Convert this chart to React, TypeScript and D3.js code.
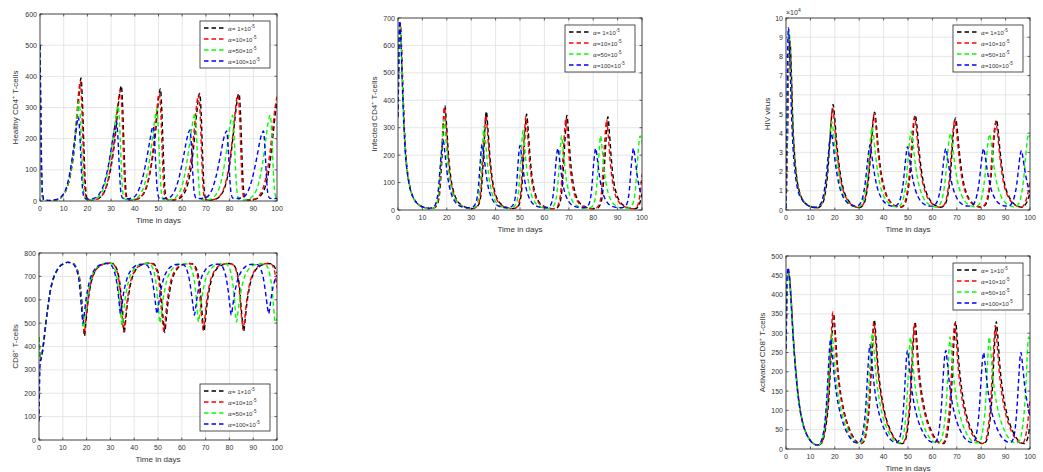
import React from 'react';
import * as d3 from 'd3';

type Pt = [number, number];

// alpha values used in the legends (x 10^-5)
const alphaNames = ['1', '10', '50', '100'];
const lineColors = ['#000000', '#ff0000', '#00ff00', '#0000ff'];

const dayTicks = [0, 10, 20, 30, 40, 50, 60, 70, 80, 90, 100];
const healthyTicks = [0, 100, 200, 300, 400, 500, 600];
const infectedTicks = [0, 100, 200, 300, 400, 500, 600, 700];
const virusTicks = [0, 1, 2, 3, 4, 5, 6, 7, 8, 9, 10];
const cd8Ticks = [0, 100, 200, 300, 400, 500, 600, 700, 800];
const activatedTicks = [0, 50, 100, 150, 200, 250, 300, 350, 400, 450, 500];

// Healthy CD4+ T-cells
const healthyA1: Pt[] = [[0,500],[0.4,200],[0.8,30],[1.5,3],[4,1],[7,4],[9,12],[11,35],[13,90],[14.5,170],[15.8,280],[16.7,360],[17.3,395],[17.9,320],[18.5,180],[19.1,60],[19.8,10],[21,3],[24,6],[26,16],[28,45],[30,110],[31.5,190],[32.8,290],[33.7,350],[34.3,370],[34.9,300],[35.5,160],[36.1,50],[36.8,8],[38.5,3],[41,6],[43,16],[45,45],[47,115],[48.5,200],[49.5,285],[50.3,345],[50.8,360],[51.4,290],[52,160],[52.6,50],[53.3,8],[55,3],[58,6],[60,16],[62,45],[64,120],[65.3,210],[66.3,295],[67,340],[67.4,345],[68,280],[68.6,150],[69.2,45],[69.9,8],[71.5,3],[74,6],[76,16],[78,45],[80,115],[81.5,210],[82.8,300],[83.6,340],[84,345],[84.6,280],[85.2,150],[85.8,45],[86.5,8],[88,3],[91,6],[93,16],[95,45],[97,120],[98.3,210],[99.3,280],[100,315]];
const healthyA10: Pt[] = [[0,500],[0.4,200],[0.8,30],[1.5,3],[4,1],[7,4],[9,12],[11,35],[13,95],[14.4,180],[15.6,285],[16.4,355],[17,385],[17.6,310],[18.2,175],[18.8,55],[19.5,9],[21,3],[24,6],[26,16],[28,48],[30,120],[31.4,200],[32.6,295],[33.4,340],[34,355],[34.6,285],[35.2,150],[35.8,45],[36.5,8],[38.2,3],[41,6],[43,17],[45,50],[47,125],[48.3,210],[49.3,290],[49.9,335],[50.4,345],[51,280],[51.6,150],[52.2,45],[52.9,8],[54.6,3],[57.5,6],[59.5,17],[61.5,50],[63.5,125],[64.9,215],[65.9,295],[66.6,335],[67,340],[67.6,275],[68.2,145],[68.8,42],[69.5,8],[71.2,3],[74,6],[76,17],[78,50],[80,125],[81.4,215],[82.5,295],[83.2,335],[83.6,340],[84.2,275],[84.8,145],[85.4,42],[86.1,8],[87.8,3],[90.5,6],[92.5,17],[94.5,50],[96.5,125],[98,220],[99.2,300],[100,335]];
const healthyA50: Pt[] = [[0,500],[0.4,200],[0.8,30],[1.5,3],[4,1],[7,4],[9,12],[11,35],[12.8,90],[14.2,170],[15.3,250],[16,300],[16.5,320],[17.1,260],[17.7,140],[18.3,45],[19,8],[20.5,3],[23,6],[25,16],[27,45],[29,110],[30.6,190],[31.8,260],[32.5,295],[33,305],[33.6,245],[34.2,130],[34.8,40],[35.5,8],[37,3],[40,6],[42,18],[44,50],[46,120],[47.4,200],[48.5,265],[49.3,295],[49.9,235],[50.5,120],[51.1,38],[51.8,7],[53.5,3],[56,6],[58,18],[60,50],[62,125],[63.5,205],[64.6,260],[65.4,280],[66,220],[66.6,110],[67.2,35],[67.9,7],[69.5,3],[72,6],[74,18],[76,50],[78,125],[79.5,205],[80.5,258],[81.3,275],[81.9,215],[82.5,105],[83.1,33],[83.8,7],[85.5,3],[88,6],[90,18],[92,50],[94,125],[95.4,205],[96.4,258],[97.2,275],[97.8,215],[98.4,105],[99,33],[99.6,10],[100,7]];
const healthyA100: Pt[] = [[0,500],[0.5,200],[1,30],[1.7,4],[4,2],[7,5],[9,14],[11,40],[12.7,95],[14,160],[15.2,230],[15.8,260],[16.2,270],[16.8,215],[17.4,110],[18,35],[18.8,9],[20.5,6],[23,9],[25,22],[27,55],[29,120],[30.5,190],[31.6,240],[32.3,255],[32.9,200],[33.5,100],[34.1,30],[34.9,9],[36.5,7],[39,10],[41,25],[43,65],[45,135],[46.5,200],[47.3,232],[47.8,240],[48.4,185],[49,90],[49.6,28],[50.4,9],[52,8],[54.5,11],[56.5,27],[58.5,70],[60.5,140],[62,200],[62.8,222],[63.3,228],[63.9,175],[64.5,85],[65.1,26],[65.9,9],[67.5,8],[70,11],[72,27],[74,70],[76,140],[77.5,200],[78.3,220],[78.8,225],[79.4,172],[80,85],[80.6,26],[81.4,9],[83,8],[85.5,11],[87.5,27],[89.5,70],[91.5,140],[93,200],[93.8,220],[94.3,225],[94.9,172],[95.5,85],[96.1,26],[96.9,9],[98.5,8],[100,9]];

// Infected CD4+ T-cells
const infectedA1: Pt[] = [[0,340],[0.4,560],[0.9,680],[1.4,600],[2,440],[2.6,300],[3.2,200],[4,130],[5,80],[6,50],[7.5,28],[9,16],[11,8],[13,5],[15,9],[16.2,22],[17.2,75],[18,190],[18.7,320],[19.2,380],[19.9,310],[20.7,200],[21.7,115],[22.7,70],[24,38],[26,18],[28,9],[30,5],[31.5,7],[33.2,22],[34.2,75],[35,190],[35.7,305],[36.2,360],[36.9,290],[37.7,190],[38.7,110],[39.7,65],[41,35],[43,16],[45,8],[47,5],[48.5,7],[49.7,22],[50.7,75],[51.5,190],[52.2,300],[52.7,350],[53.4,285],[54.2,185],[55.2,105],[56.2,62],[57.5,33],[59.5,15],[61.5,7],[63.5,5],[65,7],[66.2,22],[67.2,75],[68,190],[68.7,295],[69.2,345],[69.9,280],[70.7,180],[71.7,103],[72.7,60],[74,32],[76,15],[78,7],[80,5],[81.8,7],[83,22],[84,75],[84.8,190],[85.5,290],[86,340],[86.7,275],[87.5,178],[88.5,100],[89.5,60],[91,30],[93,14],[95,7],[97,5],[98,8],[99,22],[100,60]];
const infectedA10: Pt[] = [[0,340],[0.4,560],[0.9,680],[1.4,600],[2,440],[2.6,300],[3.2,200],[4,130],[5,80],[6,50],[7.5,28],[9,16],[11,8],[13,5],[15,9],[16,22],[17,75],[17.8,190],[18.5,320],[19,375],[19.7,305],[20.5,198],[21.5,113],[22.5,68],[23.8,37],[25.8,17],[27.8,9],[29.8,5],[31.3,7],[33,22],[34,75],[34.8,190],[35.5,295],[36,345],[36.7,280],[37.5,185],[38.5,105],[39.5,62],[40.8,33],[42.8,15],[44.8,8],[46.8,5],[48.2,7],[49.4,22],[50.4,75],[51.2,190],[51.9,290],[52.4,340],[53.1,275],[53.9,180],[54.9,102],[55.9,60],[57.2,32],[59.2,15],[61.2,7],[63.2,5],[64.6,7],[65.8,22],[66.8,75],[67.6,190],[68.3,290],[68.8,335],[69.5,272],[70.3,175],[71.3,100],[72.3,58],[73.6,31],[75.6,14],[77.6,7],[79.6,5],[81.2,7],[82.5,22],[83.5,75],[84.3,190],[85,285],[85.5,330],[86.2,268],[87,172],[88,98],[89,57],[90.5,30],[92.5,14],[94.5,7],[96.5,5],[97.7,9],[98.8,35],[100,130]];
const infectedA50: Pt[] = [[0,340],[0.4,560],[0.8,670],[1.3,600],[1.9,440],[2.5,300],[3.1,200],[4,125],[5,78],[6,50],[7.5,28],[9,16],[11,8],[13,5],[14.8,9],[15.8,22],[16.8,70],[17.6,170],[18.3,280],[18.8,330],[19.5,270],[20.3,180],[21.3,105],[22.3,63],[23.6,35],[25.6,17],[27.6,9],[29.4,6],[30.9,8],[32.4,22],[33.4,70],[34.2,170],[34.8,260],[35.2,305],[35.9,250],[36.7,165],[37.7,95],[38.7,57],[40,31],[42,14],[44,7],[45.5,6],[47,9],[48.4,22],[49.4,68],[50.2,165],[50.8,250],[51.2,290],[51.9,235],[52.7,155],[53.7,90],[54.7,55],[56,30],[58,14],[60,7],[61.4,6],[62.8,9],[64.2,22],[65.2,65],[66,155],[66.6,235],[67,270],[67.7,220],[68.5,145],[69.5,85],[70.5,52],[71.8,28],[73.8,13],[75.8,7],[77.3,6],[78.8,9],[80.2,22],[81.2,65],[82,155],[82.6,235],[83,270],[83.7,220],[84.5,145],[85.5,85],[86.5,52],[87.8,28],[89.8,13],[91.8,7],[93.3,6],[94.8,9],[96.2,22],[97.2,65],[98,155],[98.7,240],[99.2,270],[100,245]];
const infectedA100: Pt[] = [[0,340],[0.3,560],[0.7,690],[1.2,610],[1.8,450],[2.4,310],[3,210],[3.9,130],[4.9,80],[6,50],[7.5,28],[9,16],[11,9],[13,7],[14.5,10],[15.5,24],[16.5,70],[17.3,160],[18,230],[18.5,255],[19.2,210],[20,145],[21,88],[22,55],[23.3,31],[25.3,15],[27.3,9],[29,8],[30.5,10],[31.8,24],[32.8,70],[33.6,160],[34.1,220],[34.5,240],[35.2,198],[36,138],[37,83],[38,52],[39.3,29],[41.3,14],[43.3,9],[44.8,8],[46.3,11],[47.5,25],[48.4,70],[49.1,155],[49.6,215],[50,235],[50.7,195],[51.5,135],[52.5,80],[53.5,50],[54.8,28],[56.8,14],[58.8,9],[60.2,8],[61.7,11],[62.9,25],[63.8,70],[64.5,150],[65.1,205],[65.5,225],[66.2,185],[67,128],[68,77],[69,48],[70.3,27],[72.3,13],[74.3,9],[75.7,8],[77.2,11],[78.4,25],[79.3,70],[80,150],[80.6,205],[81,225],[81.7,185],[82.5,128],[83.5,77],[84.5,48],[85.8,27],[87.8,13],[89.8,9],[91.2,8],[92.7,11],[93.9,25],[94.8,70],[95.5,150],[96.1,205],[96.5,225],[97.2,185],[98,128],[99,77],[100,50]];

// HIV virus (units of 10^4)
const virusA1: Pt[] = [[0,0.1],[0.5,3],[1,7],[1.6,8.8],[2.2,7.2],[2.8,4.6],[3.5,2.9],[4.5,1.6],[5.5,0.95],[7,0.5],[9,0.25],[11,0.14],[13,0.12],[14.8,0.3],[16,0.8],[17,1.8],[18,3.6],[18.8,5],[19.3,5.5],[19.9,4.9],[20.7,3.6],[21.7,2.4],[22.7,1.55],[24,0.9],[26,0.42],[28,0.2],[30,0.13],[31.6,0.25],[32.8,0.7],[33.9,1.7],[34.9,3.3],[35.7,4.6],[36.3,5.1],[36.9,4.6],[37.7,3.4],[38.7,2.2],[39.7,1.45],[41,0.85],[43,0.4],[45,0.2],[47,0.14],[48.4,0.25],[49.6,0.7],[50.7,1.7],[51.7,3.3],[52.4,4.5],[53,4.95],[53.6,4.45],[54.4,3.3],[55.4,2.15],[56.4,1.4],[57.7,0.85],[59.7,0.4],[61.7,0.2],[63.5,0.14],[65,0.25],[66.2,0.7],[67.3,1.7],[68.2,3.3],[68.9,4.4],[69.5,4.8],[70.1,4.3],[70.9,3.2],[71.9,2.1],[72.9,1.35],[74.2,0.8],[76.2,0.38],[78.2,0.2],[80,0.14],[81.6,0.25],[82.9,0.7],[84,1.7],[84.9,3.2],[85.7,4.3],[86.3,4.7],[86.9,4.2],[87.7,3.1],[88.7,2.05],[89.7,1.3],[91,0.8],[93,0.38],[95,0.2],[96.8,0.14],[98.2,0.3],[99.2,0.55],[100,0.9]];
const virusA10: Pt[] = [[0,0.1],[0.5,3],[1,7.2],[1.5,8.9],[2.1,7.4],[2.7,4.8],[3.4,3],[4.4,1.65],[5.4,0.98],[7,0.5],[9,0.25],[11,0.14],[13,0.12],[14.6,0.3],[15.8,0.8],[16.8,1.8],[17.8,3.5],[18.6,4.8],[19.1,5.3],[19.7,4.75],[20.5,3.5],[21.5,2.35],[22.5,1.5],[23.8,0.88],[25.8,0.41],[27.8,0.2],[29.8,0.13],[31.4,0.25],[32.6,0.7],[33.7,1.7],[34.7,3.25],[35.5,4.5],[36.1,5.0],[36.7,4.5],[37.5,3.3],[38.5,2.15],[39.5,1.4],[40.8,0.83],[42.8,0.39],[44.8,0.2],[46.8,0.14],[48.1,0.25],[49.3,0.7],[50.4,1.7],[51.4,3.25],[52.1,4.4],[52.7,4.85],[53.3,4.35],[54.1,3.25],[55.1,2.1],[56.1,1.37],[57.4,0.82],[59.4,0.39],[61.4,0.2],[63.2,0.14],[64.7,0.25],[65.9,0.7],[67,1.7],[67.9,3.2],[68.6,4.3],[69.2,4.7],[69.8,4.2],[70.6,3.15],[71.6,2.05],[72.6,1.32],[73.9,0.8],[75.9,0.37],[77.9,0.2],[79.7,0.14],[81.3,0.25],[82.6,0.7],[83.7,1.7],[84.6,3.15],[85.4,4.2],[86,4.6],[86.6,4.1],[87.4,3.05],[88.4,2],[89.4,1.28],[90.7,0.78],[92.7,0.37],[94.7,0.2],[96.5,0.14],[97.7,0.3],[98.9,0.75],[100,1.5]];
const virusA50: Pt[] = [[0,0.1],[0.4,3.5],[0.8,7.5],[1.3,9.3],[1.9,7.6],[2.5,5],[3.2,3.1],[4.2,1.7],[5.2,1],[7,0.5],[9,0.25],[11,0.15],[12.8,0.13],[14.4,0.3],[15.6,0.8],[16.6,1.7],[17.6,3.2],[18.3,4.2],[18.8,4.6],[19.4,4.1],[20.2,3.05],[21.2,2.05],[22.2,1.35],[23.5,0.8],[25.5,0.38],[27.5,0.2],[29.3,0.15],[30.9,0.27],[32.1,0.7],[33.2,1.55],[34.1,2.9],[34.8,3.9],[35.3,4.3],[35.9,3.85],[36.7,2.85],[37.7,1.9],[38.7,1.25],[40,0.75],[42,0.36],[44,0.2],[45.7,0.16],[47.1,0.28],[48.3,0.7],[49.3,1.5],[50.1,2.8],[50.8,3.75],[51.3,4.1],[51.9,3.65],[52.7,2.72],[53.7,1.8],[54.7,1.2],[56,0.72],[58,0.35],[60,0.2],[61.6,0.16],[63,0.28],[64.2,0.7],[65.2,1.5],[66.1,2.75],[66.9,3.7],[67.5,4.0],[68.1,3.55],[68.9,2.65],[69.9,1.75],[70.9,1.17],[72.2,0.7],[74.2,0.34],[76.2,0.2],[77.7,0.16],[79.1,0.28],[80.3,0.7],[81.3,1.5],[82.2,2.75],[82.9,3.65],[83.5,3.95],[84.1,3.5],[84.9,2.6],[85.9,1.72],[86.9,1.15],[88.2,0.7],[90.2,0.34],[92.2,0.2],[93.7,0.16],[95.1,0.28],[96.3,0.7],[97.3,1.5],[98.2,2.75],[98.9,3.65],[99.5,3.95],[100,3.8]];
const virusA100: Pt[] = [[0,0.1],[0.3,4],[0.7,8.5],[1,9.5],[1.6,7.8],[2.2,5.2],[2.9,3.2],[3.9,1.75],[4.9,1.02],[6.5,0.55],[8.5,0.27],[10.5,0.16],[12.5,0.14],[14.1,0.3],[15.3,0.75],[16.3,1.55],[17.3,2.8],[18.1,3.7],[18.6,4.0],[19.2,3.55],[20,2.65],[21,1.78],[22,1.18],[23.3,0.72],[25.3,0.36],[27.3,0.22],[28.8,0.2],[30.2,0.3],[31.4,0.65],[32.4,1.35],[33.3,2.4],[34,3.15],[34.4,3.4],[35,3.0],[35.8,2.25],[36.8,1.5],[37.8,1.0],[39.1,0.62],[41.1,0.32],[43.1,0.21],[44.5,0.2],[45.8,0.3],[47,0.65],[48,1.35],[48.8,2.35],[49.4,3.05],[49.8,3.3],[50.4,2.9],[51.2,2.2],[52.2,1.47],[53.2,0.98],[54.5,0.6],[56.5,0.31],[58.5,0.21],[60,0.2],[61.3,0.3],[62.5,0.65],[63.5,1.3],[64.4,2.3],[65,2.95],[65.5,3.2],[66.1,2.82],[66.9,2.13],[67.9,1.43],[68.9,0.95],[70.2,0.58],[72.2,0.3],[74.2,0.21],[75.5,0.2],[76.8,0.3],[78,0.65],[79,1.3],[79.9,2.3],[80.5,2.95],[81,3.2],[81.6,2.82],[82.4,2.13],[83.4,1.43],[84.4,0.95],[85.7,0.58],[87.7,0.3],[89.7,0.21],[91,0.2],[92.3,0.3],[93.5,0.65],[94.5,1.28],[95.4,2.25],[96,2.88],[96.5,3.1],[97.1,2.73],[97.9,2.05],[98.9,1.38],[100,0.9]];

// CD8+ T-cells
const cd8A1: Pt[] = [[0,440],[0.6,340],[1.2,365],[2,420],[3,510],[4,590],[5,650],[6,690],[7,715],[8.5,740],[10,752],[12,760],[14,757],[15.3,745],[16.3,722],[17.2,680],[18,590],[18.6,500],[19.1,445],[19.7,500],[20.4,575],[21.2,635],[22.2,685],[23.5,720],[25,740],[27,752],[29,757],[31,755],[32.3,740],[33.3,710],[34.2,650],[34.9,560],[35.4,495],[35.8,460],[36.4,510],[37.1,580],[37.9,635],[38.9,685],[40.2,720],[41.8,741],[43.8,752],[45.8,756],[47.8,755],[49.2,740],[50.2,710],[51.1,650],[51.8,560],[52.4,495],[52.8,460],[53.4,510],[54.1,580],[54.9,635],[55.9,685],[57.2,718],[58.8,740],[60.8,751],[62.8,755],[64.4,754],[65.8,740],[66.8,710],[67.7,650],[68.4,560],[68.9,497],[69.3,465],[69.9,512],[70.6,580],[71.4,635],[72.4,683],[73.7,717],[75.3,739],[77.3,750],[79.3,755],[81,754],[82.4,740],[83.4,710],[84.3,650],[85,560],[85.6,497],[86,465],[86.6,512],[87.3,580],[88.1,635],[89.1,683],[90.4,717],[92,739],[94,750],[96,755],[97.7,754],[99,740],[100,715]];
const cd8A10: Pt[] = [[0,440],[0.6,340],[1.2,365],[2,420],[3,510],[4,590],[5,650],[6,690],[7,715],[8.5,740],[10,752],[12,760],[14,757],[15.2,745],[16.2,722],[17.1,680],[17.9,590],[18.5,505],[19,455],[19.6,505],[20.3,578],[21.1,637],[22.1,686],[23.4,720],[25,741],[27,752],[29,757],[30.9,755],[32.1,740],[33.1,710],[34,650],[34.7,560],[35.2,497],[35.6,462],[36.2,512],[36.9,582],[37.7,637],[38.7,686],[40,720],[41.6,741],[43.6,752],[45.6,756],[47.4,755],[48.8,740],[49.8,710],[50.7,650],[51.4,560],[52,497],[52.4,465],[53,513],[53.7,582],[54.5,637],[55.5,686],[56.8,719],[58.4,740],[60.4,751],[62.4,755],[64,754],[65.4,740],[66.4,710],[67.3,650],[68,560],[68.6,500],[69,470],[69.6,515],[70.3,583],[71.1,637],[72.1,685],[73.4,718],[75,740],[77,751],[79,755],[80.8,754],[82.2,740],[83.2,710],[84.1,650],[84.8,560],[85.4,500],[85.8,470],[86.4,515],[87.1,583],[87.9,637],[88.9,685],[90.2,718],[91.8,740],[93.8,751],[95.8,755],[97.4,754],[98.6,735],[99.4,700],[100,650]];
const cd8A50: Pt[] = [[0,440],[0.6,340],[1.2,365],[2,420],[3,510],[4,590],[5,650],[6,690],[7,715],[8.5,740],[10,752],[12,760],[14,757],[15,747],[16,725],[16.9,685],[17.6,610],[18.2,530],[18.7,480],[19.3,525],[20,590],[20.8,642],[21.8,688],[23.1,720],[24.7,741],[26.7,752],[28.7,757],[30.3,755],[31.4,742],[32.4,712],[33.3,655],[34,575],[34.5,520],[34.8,490],[35.4,535],[36.1,595],[36.9,645],[37.9,690],[39.2,720],[40.8,741],[42.8,752],[44.8,755],[46.2,754],[47.5,742],[48.5,712],[49.4,655],[50.1,575],[50.5,525],[50.8,500],[51.4,540],[52.1,598],[52.9,647],[53.9,690],[55.2,720],[56.8,740],[58.8,751],[60.8,754],[62.3,753],[63.7,742],[64.7,712],[65.6,655],[66.3,578],[66.7,530],[67,505],[67.6,545],[68.3,600],[69.1,648],[70.1,690],[71.4,720],[73,740],[75,751],[77,754],[78.3,753],[79.7,742],[80.7,712],[81.6,655],[82.3,578],[82.7,530],[83,505],[83.6,545],[84.3,600],[85.1,648],[86.1,690],[87.4,720],[89,740],[91,751],[93,754],[94.5,753],[95.9,742],[96.9,712],[97.8,655],[98.5,578],[98.9,530],[99.2,505],[99.6,508],[100,520]];
const cd8A100: Pt[] = [[0,80],[0.5,330],[1.2,360],[2,420],[3,510],[4,590],[5,650],[6,690],[7,715],[8.5,740],[10,752],[12,760],[13.8,757],[14.8,748],[15.8,727],[16.7,690],[17.4,620],[18,550],[18.5,500],[19.1,545],[19.8,605],[20.6,652],[21.6,693],[22.9,722],[24.5,742],[26.5,752],[28.2,755],[29.8,752],[30.9,740],[31.9,712],[32.8,665],[33.5,605],[33.9,565],[34.2,540],[34.8,575],[35.5,625],[36.3,665],[37.3,700],[38.6,726],[40.2,743],[42.2,751],[44,752],[45.4,748],[46.5,728],[47.5,690],[48.4,630],[49,580],[49.6,540],[50.2,575],[50.9,625],[51.7,665],[52.7,700],[54,726],[55.6,743],[57.6,751],[59.6,752],[61,748],[62.1,728],[63.1,690],[64,630],[64.7,575],[65.3,535],[65.9,572],[66.6,622],[67.4,663],[68.4,698],[69.7,725],[71.3,742],[73.3,751],[75.3,752],[76.6,748],[77.7,728],[78.7,690],[79.6,630],[80.2,575],[80.8,535],[81.4,572],[82.1,622],[82.9,663],[83.9,698],[85.2,725],[86.8,742],[88.8,751],[90.8,752],[92.2,748],[93.3,728],[94.3,690],[95.2,630],[95.9,575],[96.5,540],[97.1,575],[97.8,625],[98.6,665],[99.3,690],[100,705]];

// Activated CD8+ T-cells
const activatedA1: Pt[] = [[0,260],[0.4,400],[0.9,455],[1.4,445],[2,400],[3,290],[4,205],[5,140],[6,95],[7,65],[8.5,38],[10,22],[11.5,13],[13,10],[14.5,15],[15.5,30],[16.5,65],[17.5,125],[18.3,220],[19,310],[19.5,350],[20.1,310],[21,225],[22,163],[23,122],[24,92],[26,52],[28,27],[29.5,16],[31,14],[32.2,22],[33.2,55],[34.2,115],[35,210],[35.7,300],[36.2,335],[36.8,295],[37.7,215],[38.7,157],[39.7,118],[40.7,88],[42.7,50],[44.7,26],[46.2,16],[47.7,14],[48.9,22],[49.9,55],[50.9,115],[51.7,210],[52.4,295],[52.9,330],[53.5,292],[54.4,212],[55.4,155],[56.4,116],[57.4,87],[59.4,49],[61.4,26],[62.9,16],[64.4,14],[65.5,22],[66.5,55],[67.5,115],[68.3,210],[69,295],[69.5,330],[70.1,292],[71,212],[72,155],[73,116],[74,87],[76,49],[78,26],[79.5,16],[81,14],[82.2,22],[83.2,55],[84.2,115],[85,210],[85.7,295],[86.2,330],[86.8,292],[87.7,212],[88.7,155],[89.7,116],[90.7,87],[92.7,49],[94.7,26],[96.2,16],[97.7,14],[98.9,25],[100,60]];
const activatedA10: Pt[] = [[0,260],[0.4,400],[0.9,460],[1.4,450],[2,400],[3,290],[4,205],[5,140],[6,95],[7,65],[8.5,38],[10,22],[11.5,13],[13,10],[14.5,15],[15.3,30],[16.3,65],[17.3,128],[18.1,225],[18.7,315],[19.2,355],[19.8,312],[20.7,227],[21.7,165],[22.7,123],[23.7,93],[25.7,52],[27.7,27],[29.2,16],[30.7,14],[32,22],[33,55],[34,115],[34.8,205],[35.5,295],[36,330],[36.6,290],[37.5,212],[38.5,155],[39.5,116],[40.5,87],[42.5,49],[44.5,26],[46,16],[47.4,14],[48.6,22],[49.6,55],[50.6,115],[51.4,205],[52.1,290],[52.6,325],[53.2,287],[54.1,209],[55.1,152],[56.1,114],[57.1,85],[59.1,48],[61.1,25],[62.6,16],[64,14],[65.1,22],[66.1,55],[67.1,115],[67.9,205],[68.6,290],[69.1,325],[69.7,287],[70.6,209],[71.6,152],[72.6,114],[73.6,85],[75.6,48],[77.6,25],[79.1,16],[80.6,14],[81.8,22],[82.8,55],[83.8,115],[84.6,203],[85.3,285],[85.8,320],[86.4,283],[87.3,206],[88.3,150],[89.3,112],[90.3,84],[92.3,47],[94.3,25],[95.8,16],[97,15],[98,28],[99,65],[100,130]];
const activatedA50: Pt[] = [[0,260],[0.4,400],[0.8,455],[1.3,445],[1.9,400],[2.9,290],[3.9,205],[4.9,140],[5.9,95],[6.9,65],[8.4,38],[9.9,22],[11.4,13],[12.8,10],[14.2,15],[15.1,30],[16,62],[16.9,120],[17.7,205],[18.3,270],[18.8,300],[19.4,265],[20.3,195],[21.3,143],[22.3,108],[23.3,82],[25.3,47],[27.3,25],[28.8,16],[30.2,15],[31.4,23],[32.4,55],[33.4,112],[34.2,195],[34.9,270],[35.4,300],[36,265],[36.9,193],[37.9,141],[38.9,106],[39.9,80],[41.9,45],[43.9,25],[45.3,17],[46.6,16],[47.6,24],[48.6,55],[49.4,110],[50.1,190],[50.6,260],[51,290],[51.6,256],[52.5,187],[53.5,137],[54.5,103],[55.5,78],[57.5,44],[59.5,24],[61,17],[62.4,16],[63.6,24],[64.7,55],[65.6,110],[66.3,190],[66.8,260],[67.2,290],[67.8,256],[68.7,187],[69.7,137],[70.7,103],[71.7,78],[73.7,44],[75.7,24],[77.2,17],[78.6,16],[79.8,24],[80.8,55],[81.7,110],[82.4,190],[82.9,260],[83.3,290],[83.9,256],[84.8,187],[85.8,137],[86.8,103],[87.8,78],[89.8,44],[91.8,24],[93.3,17],[94.7,16],[95.9,24],[96.9,55],[97.8,110],[98.5,190],[99,260],[99.5,290],[100,275]];
const activatedA100: Pt[] = [[0,260],[0.3,420],[0.8,470],[1.3,455],[1.9,400],[2.9,290],[3.9,205],[4.9,140],[5.9,95],[6.9,65],[8.4,38],[9.9,22],[11.4,13],[12.7,10],[14,15],[14.9,30],[15.8,62],[16.6,120],[17.3,200],[17.9,265],[18.3,285],[18.9,252],[19.8,188],[20.8,138],[21.8,104],[22.8,79],[24.8,45],[26.8,25],[28.2,17],[29.6,16],[30.8,24],[31.8,55],[32.7,110],[33.4,190],[34,250],[34.4,270],[35,238],[35.9,178],[36.9,131],[37.9,98],[38.9,75],[40.9,43],[42.9,24],[44.3,18],[45.5,17],[46.5,26],[47.4,57],[48.2,110],[48.9,185],[49.4,238],[49.8,255],[50.4,225],[51.3,168],[52.3,124],[53.3,93],[54.3,71],[56.3,41],[58.3,23],[59.7,18],[61,17],[62,26],[62.9,57],[63.7,110],[64.4,185],[65,238],[65.5,255],[66.1,225],[67,168],[68,124],[69,93],[70,71],[72,41],[74,23],[75.4,18],[76.6,17],[77.6,26],[78.5,57],[79.3,110],[80,185],[80.6,235],[81,250],[81.6,221],[82.5,165],[83.5,122],[84.5,91],[85.5,70],[87.5,40],[89.5,23],[90.9,18],[92.1,17],[93.1,26],[94,57],[94.7,110],[95.4,185],[95.9,235],[96.3,250],[96.9,221],[97.8,165],[98.8,122],[100,85]];

const FONT = '"Liberation Sans", Arial, Helvetica, sans-serif';
const AX = '#262626';

const panels = [
  { id: 'h', series: [healthyA1, healthyA10, healthyA50, healthyA100], ticks: healthyTicks,
    left: 40, right: 277, top: 14, bottom: 201, yOff: 22, label: 'Healthy CD4', labelTail: ' T-cells', legend: 'ne' },
  { id: 'i', series: [infectedA1, infectedA10, infectedA50, infectedA100], ticks: infectedTicks,
    left: 398, right: 642, top: 18, bottom: 210, yOff: 21, label: 'Infected CD4', labelTail: '  T-cells', legend: 'ne' },
  { id: 'v', series: [virusA1, virusA10, virusA50, virusA100], ticks: virusTicks,
    left: 786, right: 1030, top: 18, bottom: 210, yOff: 16, label: 'HIV virus', labelTail: '', legend: 'ne', exp: true },
  { id: 'z', series: [cd8A1, cd8A10, cd8A50, cd8A100], ticks: cd8Ticks,
    left: 39, right: 277, top: 253, bottom: 440, yOff: 21, label: 'CD8', labelTail: '  T-cells', legend: 'se' },
  { id: 'y', series: [activatedA1, activatedA10, activatedA50, activatedA100], ticks: activatedTicks,
    left: 786, right: 1030, top: 256, bottom: 449, yOff: 21, label: 'Activated CD8', labelTail: '  T-cells', legend: 'ne' },
];

function Panel({ p }: { p: any }) {
  const yMax = p.ticks[p.ticks.length - 1];
  const x = d3.scaleLinear().domain([0, 100]).range([p.left, p.right]);
  const y = d3.scaleLinear().domain([0, yMax]).range([p.bottom, p.top]);
  const line = d3.line<Pt>().x(d => x(d[0])).y(d => y(d[1])).curve(d3.curveMonotoneX);
  const tl = 2.5;
  const lw = 70, lh = 47;
  const lx = p.right - 7 - lw;
  const ly = p.legend === 'ne' ? p.top + 7 : p.bottom - 9 - lh;
  const midY = (p.top + p.bottom) / 2;
  const hasSup = p.label !== 'HIV virus';
  return (
    <g>
      <defs>
        <clipPath id={`clip-${p.id}`}>
          <rect x={p.left} y={p.top} width={p.right - p.left} height={p.bottom - p.top} />
        </clipPath>
      </defs>
      {/* grid */}
      {dayTicks.map(t => (
        <line key={'gx' + t} x1={x(t)} x2={x(t)} y1={p.top} y2={p.bottom} stroke="#e0e0e0" strokeWidth={0.8} />
      ))}
      {p.ticks.map((t: number) => (
        <line key={'gy' + t} x1={p.left} x2={p.right} y1={y(t)} y2={y(t)} stroke="#e0e0e0" strokeWidth={0.8} />
      ))}
      {/* curves */}
      <g clipPath={`url(#clip-${p.id})`}>
        {p.series.map((s: Pt[], i: number) => (
          <path key={i} d={line(s) || ''} fill="none" stroke={lineColors[i]} strokeWidth={1.4} strokeDasharray="4.5,3" />
        ))}
      </g>
      {/* box & ticks */}
      <rect x={p.left} y={p.top} width={p.right - p.left} height={p.bottom - p.top} fill="none" stroke={AX} strokeWidth={0.8} />
      {dayTicks.map(t => (
        <g key={'tx' + t}>
          <line x1={x(t)} x2={x(t)} y1={p.bottom} y2={p.bottom - tl} stroke={AX} strokeWidth={0.7} />
          <line x1={x(t)} x2={x(t)} y1={p.top} y2={p.top + tl} stroke={AX} strokeWidth={0.7} />
          <text x={x(t)} y={p.bottom + 10} textAnchor="middle" fontSize={7} fill="#333" fontFamily={FONT}>{t}</text>
        </g>
      ))}
      {p.ticks.map((t: number) => (
        <g key={'ty' + t}>
          <line x1={p.left} x2={p.left + tl} y1={y(t)} y2={y(t)} stroke={AX} strokeWidth={0.7} />
          <line x1={p.right} x2={p.right - tl} y1={y(t)} y2={y(t)} stroke={AX} strokeWidth={0.7} />
          <text x={p.left - 3} y={y(t) + 2.5} textAnchor="end" fontSize={7} fill="#333" fontFamily={FONT}>{t}</text>
        </g>
      ))}
      {p.exp && (
        <text x={p.left} y={p.top - 3} fontSize={7} fill="#333" fontFamily={FONT}>
          ×10<tspan fontSize={5} dy={-3}>4</tspan>
        </text>
      )}
      <text x={(p.left + p.right) / 2} y={p.bottom + 22} textAnchor="middle" fontSize={8} fill="#333" fontFamily={FONT}>Time in days</text>
      <text transform={`translate(${p.left - p.yOff},${midY}) rotate(-90)`} textAnchor="middle" fontSize={8} fill="#333" fontFamily={FONT}>
        {p.label}
        {hasSup && <tspan fontSize={5.5} dy={-3}>+</tspan>}
        {hasSup && <tspan dy={3}>{p.labelTail}</tspan>}
      </text>
      {/* legend */}
      <rect x={lx} y={ly} width={lw} height={lh} fill="#fff" stroke={AX} strokeWidth={0.8} />
      {alphaNames.map((a, i) => {
        const ey = ly + 7 + i * 11;
        return (
          <g key={'lg' + i}>
            <line x1={lx + 4} x2={lx + 26} y1={ey} y2={ey} stroke={lineColors[i]} strokeWidth={1.4} strokeDasharray="4.5,3" />
            <text x={lx + 28} y={ey + 3} fontSize={6} fill="#333" fontFamily={FONT}>
              <tspan fontFamily='"DejaVu Serif", serif' fontStyle="italic">α</tspan>
              {'=' + (a === '1' ? ' 1' : a) + '×10'}
              <tspan fontSize={4.5} dy={-3}>-5</tspan>
            </text>
          </g>
        );
      })}
    </g>
  );
}

export default function App() {
  return (
    <svg width={1043} height={472} style={{ position: 'absolute', left: 0, top: 0, background: '#fff' }}>
      {panels.map(p => <Panel key={p.id} p={p} />)}
    </svg>
  );
}
